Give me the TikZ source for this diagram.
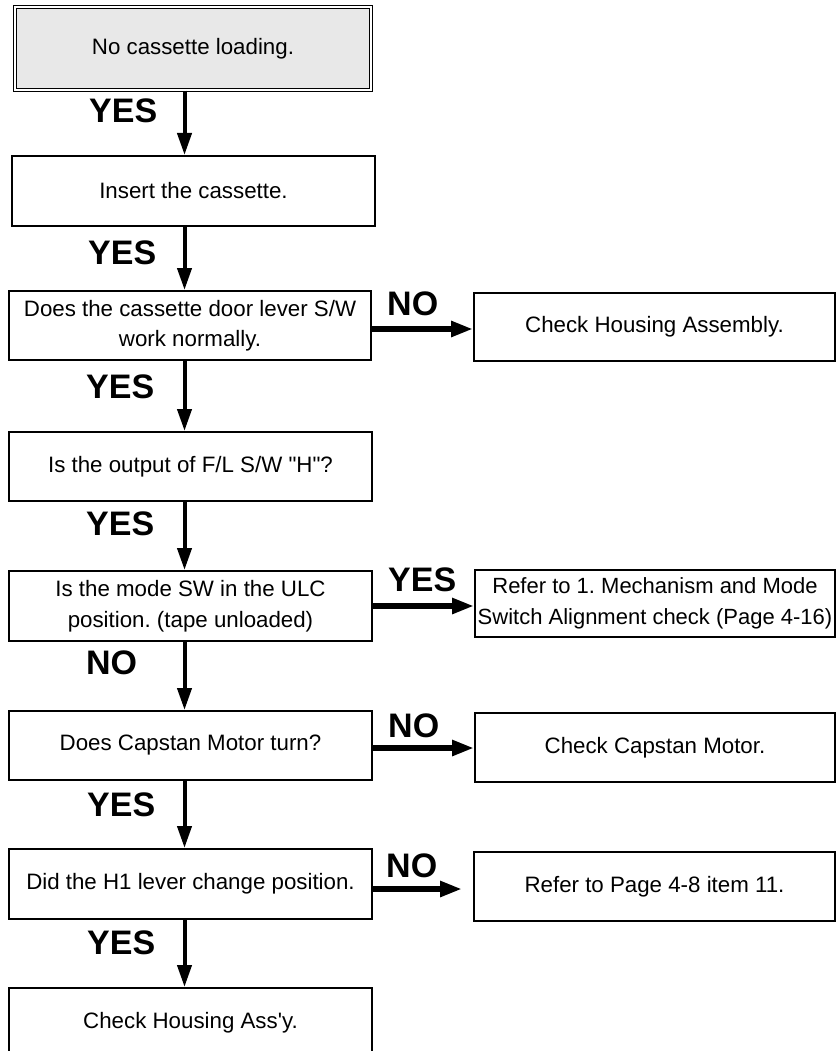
\documentclass[tikz,border=0pt]{standalone}
\usepackage{fontspec}
\setmainfont{Liberation Sans}
\usetikzlibrary{arrows.meta}
\frenchspacing
\begin{document}
\begin{tikzpicture}[x=1pt,y=-1pt,
  stepbox/.style={draw,line width=2pt,inner sep=0pt,align=center,
    font=\fontsize{22.3}{30.5}\selectfont},
  startbox/.style={stepbox,fill=black!9,line width=1.2pt,double,
    double distance=1.6pt},
  lbl/.style={inner sep=0pt,anchor=west,font=\fontsize{34}{34}\selectfont\bfseries},
  vflow/.style={line width=4pt,-{Triangle[length=22pt,width=14pt]}},
  hflow/.style={line width=5.5pt,-{Triangle[length=22pt,width=15pt]}}
]
\useasboundingbox (0,0) rectangle (837,1051);
\clip (0,0) rectangle (837,1051);

% main column
\node[startbox,minimum width=356pt,minimum height=83pt] (b1) at (193,48.5) {No cassette loading.};
\node[stepbox,minimum width=363pt,minimum height=70pt] (b2) at (193.5,191) {Insert the cassette.};
\node[stepbox,minimum width=362pt,minimum height=69pt] (b3) at (190,325.5) {Does the cassette door lever S/W\\work normally.};
\node[stepbox,minimum width=363pt,minimum height=69pt] (b4) at (190.5,466.5) {Is the output of F/L S/W \textquotedbl H\textquotedbl?};
\node[stepbox,minimum width=363pt,minimum height=70pt] (b5) at (190.5,606) {Is the mode SW in the ULC\\position. (tape unloaded)};
\node[stepbox,minimum width=363pt,minimum height=69pt] (b6) at (190.5,745.5) {Does Capstan Motor turn?};
\node[stepbox,minimum width=363pt,minimum height=70pt] (b7) at (190.5,884) {Did the H1 lever change position.};
\node[stepbox,minimum width=363pt,minimum height=70pt] (b8) at (190.5,1023) {Check Housing Ass\textquotesingle y.};

% side branch boxes
\node[stepbox,minimum width=361pt,minimum height=68pt] (r3) at (654.5,327) {Check Housing Assembly.};
\node[stepbox,minimum width=360pt,minimum height=67pt,font=\fontsize{22}{31}\selectfont] (r5) at (655,603.5) {Refer to 1. Mechanism and Mode\\Switch Alignment check (Page 4-16)};
\node[stepbox,minimum width=360pt,minimum height=69pt] (r6) at (655,747.5) {Check Capstan Motor.};
\node[stepbox,minimum width=361pt,minimum height=69pt] (r7) at (654.5,886.5) {Refer to Page 4-8 item 11.};

% vertical flow
\coordinate (spine) at (184.5,0);
\draw[vflow] (b1.south -| spine) -- (b2.north -| spine);
\draw[vflow] (b2.south -| spine) -- (b3.north -| spine);
\draw[vflow] (b3.south -| spine) -- (b4.north -| spine);
\draw[vflow] (b4.south -| spine) -- (b5.north -| spine);
\draw[vflow] (b5.south -| spine) -- (b6.north -| spine);
\draw[vflow] (b6.south -| spine) -- (b7.north -| spine);
\draw[vflow] (b7.south -| spine) -- (b8.north -| spine);

% branch arrows
\draw[hflow] (b3.east |- 0,329) -- (r3.west |- 0,329);
\draw[hflow] (b5.east |- 0,606) -- (r5.west |- 0,606);
\draw[hflow] (b6.east |- 0,748) -- (r6.west |- 0,748);
\draw[hflow,shorten >=11pt] (b7.east |- 0,889) -- (r7.west |- 0,889);

% answer labels
\node[lbl] (y1) at (89,111) {YES};
\node[lbl] (y2) at (88,252.5) {YES};
\node[lbl] (y3) at (86,386.5) {YES};
\node[lbl] (y4) at (86,523.5) {YES};
\node[lbl] (n5) at (86,662.5) {NO};
\node[lbl] (y6) at (87,804.5) {YES};
\node[lbl] (y7) at (87,942.5) {YES};
\node[lbl] (n3) at (387,304) {NO};
\node[lbl] (y5) at (388,580) {YES};
\node[lbl] (n6) at (388,726) {NO};
\node[lbl] (n7) at (386,865.5) {NO};
\end{tikzpicture}
\end{document}
